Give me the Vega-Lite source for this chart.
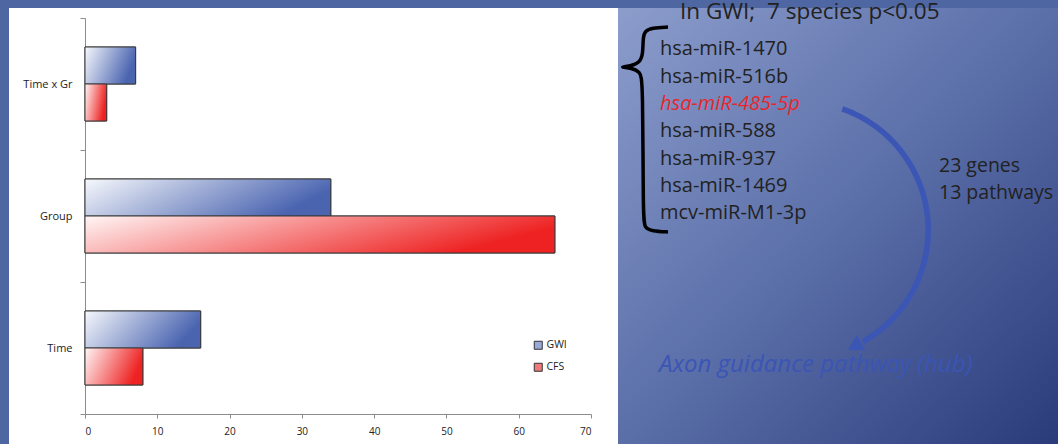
{
  "$schema": "https://vega.github.io/schema/vega-lite/v6.json",
  "background": "#4e66a2",
  "padding": {"left": 9, "top": 0, "right": 0, "bottom": 0},
  "autosize": {"type": "pad"},
  "bounds": "flush",
  "spacing": 0,
  "config": {"font": "Open Sans", "view": {"stroke": null}},
  "hconcat": [
    {
      "width": 609,
      "height": 438,
      "view": {"fill": "white", "stroke": null},
      "data": {
        "values": [
          {"term": "Time x Gr", "cohort": "GWI", "n": 7},
          {"term": "Time x Gr", "cohort": "CFS", "n": 3},
          {"term": "Group", "cohort": "GWI", "n": 34},
          {"term": "Group", "cohort": "CFS", "n": 65},
          {"term": "Time", "cohort": "GWI", "n": 16},
          {"term": "Time", "cohort": "CFS", "n": 8}
        ]
      },
      "encoding": {
        "y": {
          "field": "term", "type": "nominal",
          "sort": ["Time x Gr", "Group", "Time"],
          "scale": {"range": [10, 406], "paddingInner": 0, "paddingOuter": 0},
          "axis": {
            "orient": "left", "offset": -76, "title": null, "tickBand": "extent",
            "domainColor": "#8c8c8c", "tickColor": "#8c8c8c", "tickSize": 5,
            "labelPadding": 8, "labelFont": "Open Sans", "labelFontSize": 11, "labelColor": "#222"
          }
        },
        "yOffset": {
          "field": "cohort", "type": "nominal", "sort": ["GWI", "CFS"],
          "scale": {"domain": ["GWI", "CFS"], "paddingInner": 0, "paddingOuter": 0.784}
        },
        "x": {
          "field": "n", "type": "quantitative",
          "scale": {"domain": [0, 70], "range": [76, 582], "nice": false},
          "axis": {
            "orient": "bottom", "offset": -32, "title": null, "grid": false,
            "values": [0, 10, 20, 30, 40, 50, 60, 70],
            "domainColor": "#8c8c8c", "tickColor": "#8c8c8c", "tickSize": 4,
            "labelPadding": 8, "labelFont": "Open Sans", "labelFontSize": 10, "labelColor": "#222"
          }
        }
      },
      "layer": [
        {
          "mark": {"type": "bar", "stroke": "#3a3a3a", "strokeWidth": 1},
          "encoding": {
            "fill": {
              "field": "cohort", "type": "nominal",
              "scale": {"domain": ["GWI", "CFS"], "range": ["#9aaad8", "#ef7a7a"]},
              "legend": {
                "orient": "none", "legendX": 524, "legendY": 332, "title": null,
                "symbolType": "square", "symbolSize": 64, "symbolStrokeColor": "#333",
                "symbolStrokeWidth": 1, "labelFont": "Open Sans", "labelFontSize": 10.5,
                "labelColor": "#222", "rowPadding": 9, "labelOffset": 3
              }
            }
          }
        },
        {
          "transform": [{"filter": "datum.cohort === 'GWI'"}],
          "mark": {
            "type": "bar", "stroke": "#3a3a3a", "strokeWidth": 1,
            "fill": {"gradient": "linear", "x1": 0, "y1": 0, "x2": 1, "y2": 0.3, "stops": [{"offset": 0, "color": "#f6f8fc"}, {"offset": 1, "color": "#4a64b0"}]}
          }
        },
        {
          "transform": [{"filter": "datum.cohort === 'CFS'"}],
          "mark": {
            "type": "bar", "stroke": "#3a3a3a", "strokeWidth": 1,
            "fill": {"gradient": "linear", "x1": 0, "y1": 0, "x2": 1, "y2": 0.3, "stops": [{"offset": 0, "color": "#fff6f6"}, {"offset": 1, "color": "#ee2222"}]}
          }
        }
      ]
    },
    {
      "width": 440,
      "height": 438,
      "view": {
        "stroke": null,
        "fill": {"gradient": "linear", "x1": 0, "y1": 0, "x2": 1, "y2": 1, "stops": [{"offset": 0, "color": "#8c9dcc"}, {"offset": 0.5, "color": "#5a6ea8"}, {"offset": 1, "color": "#2a3b7a"}]}
      },
      "layer": [
        {
          "data": {"values": [{"text": "In GWI;\u00a0 7 species p<0.05"}]},
          "mark": {"type": "text", "align": "left", "baseline": "alphabetic", "fontSize": 22.5, "font": "Open Sans", "color": "#222"},
          "encoding": {
            "x": {"datum": 62, "type": "quantitative", "scale": {"domain": [0, 440], "nice": false, "zero": false}, "axis": null},
            "y": {"datum": -0.33, "type": "quantitative", "scale": {"domain": [-0.731, 15.295], "reverse": true, "nice": false, "zero": false}, "axis": null},
            "text": {"field": "text"}
          }
        },
        {
          "data": {
            "values": [
              {"name": "hsa-miR-1470", "rank": 1, "highlight": false},
              {"name": "hsa-miR-516b", "rank": 2, "highlight": false},
              {"name": "hsa-miR-485-5p", "rank": 3, "highlight": true},
              {"name": "hsa-miR-588", "rank": 4, "highlight": false},
              {"name": "hsa-miR-937", "rank": 5, "highlight": false},
              {"name": "hsa-miR-1469", "rank": 6, "highlight": false},
              {"name": "mcv-miR-M1-3p", "rank": 7, "highlight": false}
            ]
          },
          "layer": [
            {
              "transform": [{"filter": "!datum.highlight"}],
              "mark": {"type": "text", "align": "left", "baseline": "alphabetic", "fontSize": 20, "font": "Open Sans", "color": "#222"},
              "encoding": {
                "x": {"datum": 42, "type": "quantitative", "scale": {"domain": [0, 440], "nice": false, "zero": false}, "axis": null},
                "y": {"field": "rank", "type": "quantitative", "scale": {"domain": [-0.731, 15.295], "reverse": true, "nice": false, "zero": false}, "axis": null},
                "text": {"field": "name"}
              }
            },
            {
              "transform": [{"filter": "datum.highlight"}],
              "mark": {"type": "text", "align": "left", "baseline": "alphabetic", "fontSize": 20, "font": "Open Sans", "fontStyle": "italic", "color": "#e8262a"},
              "encoding": {
                "x": {"datum": 42, "type": "quantitative", "scale": {"domain": [0, 440], "nice": false, "zero": false}, "axis": null},
                "y": {"field": "rank", "type": "quantitative", "scale": {"domain": [-0.731, 15.295], "reverse": true, "nice": false, "zero": false}, "axis": null},
                "text": {"field": "name"}
              }
            }
          ]
        },
        {
          "data": {"values": [{"lines": ["23 genes", "13 pathways"]}]},
          "mark": {"type": "text", "align": "left", "baseline": "alphabetic", "fontSize": 19.5, "font": "Open Sans", "color": "#222", "lineHeight": 26.5},
          "encoding": {
            "x": {"datum": 321, "type": "quantitative", "scale": {"domain": [0, 440], "nice": false, "zero": false}, "axis": null},
            "y": {"datum": 5.27, "type": "quantitative", "scale": {"domain": [-0.731, 15.295], "reverse": true, "nice": false, "zero": false}, "axis": null},
            "text": {"field": "lines"}
          }
        },
        {
          "data": {"values": [{"text": "Axon guidance pathway (hub)"}]},
          "mark": {"type": "text", "align": "left", "baseline": "alphabetic", "fontSize": 24, "font": "Open Sans", "fontStyle": "italic", "color": "#3a55b5"},
          "encoding": {
            "x": {"datum": 41, "type": "quantitative", "scale": {"domain": [0, 440], "nice": false, "zero": false}, "axis": null},
            "y": {"datum": 12.588, "type": "quantitative", "scale": {"domain": [-0.731, 15.295], "reverse": true, "nice": false, "zero": false}, "axis": null},
            "text": {"field": "text"}
          }
        },
        {
          "data": {
            "values": [
              {"i": 1, "bx": 50, "by": -0.036}, {"i": 2, "bx": 34, "by": 0.001}, {"i": 3, "bx": 27, "by": 0.111},
              {"i": 4, "bx": 25, "by": 0.33}, {"i": 5, "bx": 25, "by": 0.952}, {"i": 6, "bx": 22, "by": 1.245},
              {"i": 7, "bx": 14, "by": 1.391}, {"i": 8, "bx": 0, "by": 1.428}, {"i": 9, "bx": 14, "by": 1.464},
              {"i": 10, "bx": 22, "by": 1.611}, {"i": 11, "bx": 25, "by": 1.903}, {"i": 12, "bx": 25, "by": 7.026},
              {"i": 13, "bx": 27, "by": 7.318}, {"i": 14, "bx": 34, "by": 7.429}, {"i": 15, "bx": 50, "by": 7.465}
            ]
          },
          "mark": {"type": "line", "interpolate": "basis", "color": "#000", "strokeWidth": 3.5},
          "encoding": {
            "x": {"field": "bx", "type": "quantitative", "scale": {"domain": [0, 440], "nice": false, "zero": false}, "axis": null},
            "y": {"field": "by", "type": "quantitative", "scale": {"domain": [-0.731, 15.295], "reverse": true, "nice": false, "zero": false}, "axis": null},
            "order": {"field": "i", "type": "quantitative"}
          }
        },
        {
          "data": {"values": [{"shape": "arc"}]},
          "mark": {"type": "arc", "theta": 0.336, "theta2": 2.63, "radius": 131, "radius2": 125.5, "color": "#3b56b4"},
          "encoding": {
            "x": {"datum": 182, "type": "quantitative", "scale": {"domain": [0, 440], "nice": false, "zero": false}, "axis": null},
            "y": {"datum": 7.392, "type": "quantitative", "scale": {"domain": [-0.731, 15.295], "reverse": true, "nice": false, "zero": false}, "axis": null}
          }
        },
        {
          "data": {"values": [{"shape": "arrowhead"}]},
          "mark": {"type": "point", "shape": "triangle-up", "angle": 240.7, "size": 300, "filled": true, "opacity": 1, "color": "#3b56b4"},
          "encoding": {
            "x": {"datum": 236.5, "type": "quantitative", "scale": {"domain": [0, 440], "nice": false, "zero": false}, "axis": null},
            "y": {"datum": 11.648, "type": "quantitative", "scale": {"domain": [-0.731, 15.295], "reverse": true, "nice": false, "zero": false}, "axis": null}
          }
        }
      ]
    }
  ]
}
